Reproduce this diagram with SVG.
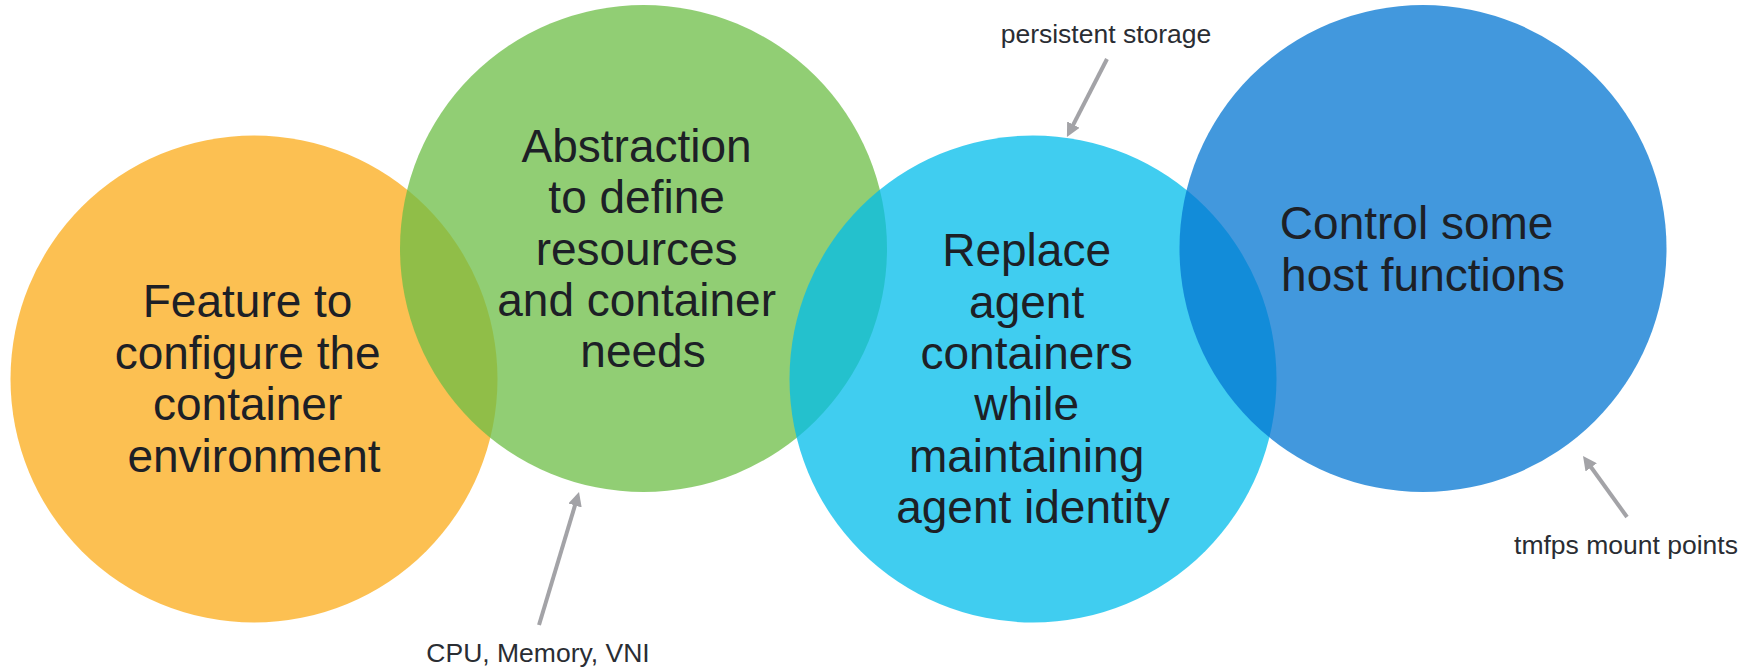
<svg xmlns="http://www.w3.org/2000/svg" width="1762" height="668" viewBox="0 0 1762 668">
  <style>
    .disc { fill-opacity: 0.75; }
    .big { font-family: "Liberation Sans", Arial, sans-serif; font-size: 46px; fill: #1d2026; text-anchor: middle; }
    .small { font-family: "Liberation Sans", Arial, sans-serif; font-size: 26.5px; fill: #2a2d33; text-anchor: middle; }
    .pointer { stroke: #a3a3a7; stroke-width: 4; fill: none; marker-end: url(#tip); }
  </style>
  <defs>
    <marker id="tip" markerUnits="userSpaceOnUse" markerWidth="14" markerHeight="14" refX="6" refY="7" orient="auto">
      <path d="M0,0 L14,7 L0,14 z" fill="#a3a3a7"/>
    </marker>
  </defs>
  <rect width="1762" height="668" fill="#ffffff"/>

  <g id="node-configure">
    <circle class="disc" cx="254" cy="379" r="243.5" fill="#fbab18"/>
    <text class="big">
      <tspan x="254" y="317">Feature to</tspan>
      <tspan x="254" y="368.5">configure the</tspan>
      <tspan x="254" y="420">container</tspan>
      <tspan x="254" y="471.5">environment</tspan>
    </text>
  </g>

  <g id="node-abstraction">
    <circle class="disc" cx="643.5" cy="248.5" r="243.5" fill="#6cbe45"/>
    <text class="big">
      <tspan x="643" y="162">Abstraction</tspan>
      <tspan x="643" y="213">to define</tspan>
      <tspan x="643" y="264.5">resources</tspan>
      <tspan x="643" y="316">and container</tspan>
      <tspan x="643" y="367">needs</tspan>
    </text>
  </g>

  <g id="node-replace">
    <circle class="disc" cx="1033" cy="379" r="243.5" fill="#00bceb"/>
    <text class="big">
      <tspan x="1033" y="266">Replace</tspan>
      <tspan x="1033" y="317.5">agent</tspan>
      <tspan x="1033" y="368.5">containers</tspan>
      <tspan x="1033" y="420">while</tspan>
      <tspan x="1033" y="471.5">maintaining</tspan>
      <tspan x="1033" y="523">agent identity</tspan>
    </text>
  </g>

  <g id="node-host">
    <circle class="disc" cx="1423" cy="248.5" r="243.5" fill="#0375d1"/>
    <text class="big">
      <tspan x="1423" y="238.5">Control some</tspan>
      <tspan x="1423" y="290.5">host functions</tspan>
    </text>
  </g>

  <g id="connectors">
    <line class="pointer" x1="1107" y1="59" x2="1070.6" y2="129.9"/>
    <line class="pointer" x1="539" y1="625" x2="576.7" y2="499.7"/>
    <line class="pointer" x1="1627" y1="517" x2="1587.7" y2="462.5"/>
  </g>

  <g id="notes">
    <text class="small" x="1106" y="42.5">persistent storage</text>
    <text class="small" x="538" y="661.5">CPU, Memory, VNI</text>
    <text class="small" x="1626" y="554">tmfps mount points</text>
  </g>
</svg>
